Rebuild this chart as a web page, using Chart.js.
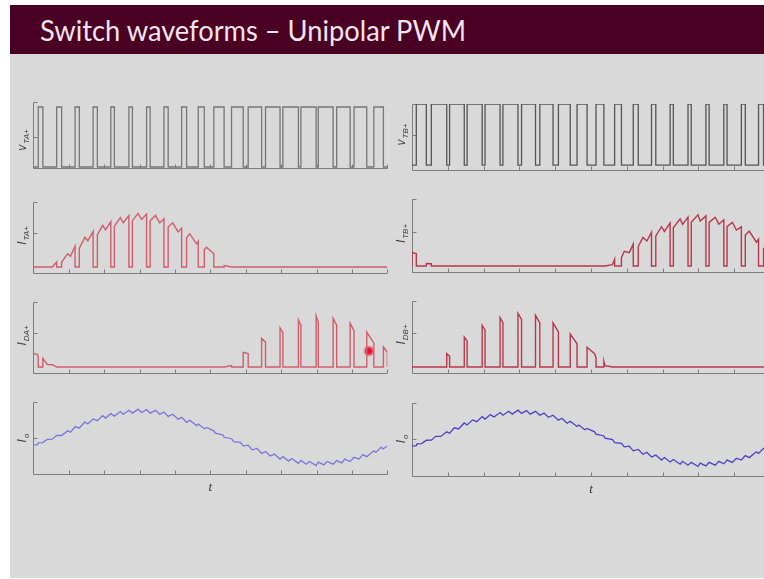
<!DOCTYPE html>
<html>
<head>
<meta charset="utf-8">
<script src="https://cdn.jsdelivr.net/npm/chart.js@4.4.1/dist/chart.umd.min.js"></script>
<style>
  html, body { margin: 0; padding: 0; background: #fff; }
  body { width: 764px; height: 579px; overflow: hidden; position: relative; }
  #slide { position: absolute; left: 10px; top: 5px; width: 754px; height: 573px; background: #d9d9d9; }
  #bar { position: absolute; left: 10px; top: 5px; width: 754px; height: 49px; background: #4a0023; }
  #title { position: absolute; left: 40px; top: 13px; font-family: Lato, sans-serif; font-size: 29px; line-height: 34px;
           color: #f2e5ed; white-space: nowrap; transform-origin: 0 0; }
  canvas { position: absolute; }
</style>
</head>
<body>
<div id="slide"></div>
<div id="bar"></div>
<div id="title">Switch waveforms – Unipolar PWM</div>

<canvas id="vA"></canvas>
<canvas id="iTA"></canvas>
<canvas id="iDA"></canvas>
<canvas id="ioA"></canvas>
<canvas id="vB"></canvas>
<canvas id="iTB"></canvas>
<canvas id="iDB"></canvas>
<canvas id="ioB"></canvas>

<script>
// switching instants (time in axis divisions 0..10)
var legAOffStart = [0.14, 0.66, 1.18, 1.69, 2.19, 2.70, 3.20, 3.69, 4.19, 4.66, 5.10, 5.60, 6.07, 6.56, 7.05, 7.56, 8.05, 8.57, 9.06, 9.62];
var legAOffEnd   = [0.27, 0.80, 1.30, 1.81, 2.29, 2.80, 3.30, 3.81, 4.33, 4.83, 5.39, 5.93, 6.45, 6.97, 7.49, 7.99, 8.47, 8.95, 9.42, 9.89];
var legBOffStart = [0.12, 0.54, 1.05, 1.54, 2.04, 2.54, 3.06, 3.57, 4.09, 4.61, 5.14, 5.66, 6.18, 6.69, 7.21, 7.71, 8.21, 8.71, 9.20, 9.68];
var legBOffEnd   = [0.40, 0.97, 1.46, 1.96, 2.46, 2.96, 3.45, 3.94, 4.42, 4.89, 5.36, 5.85, 6.32, 6.81, 7.30, 7.80, 8.30, 8.80, 9.31, 9.82];

// load current i_o, read at every switching instant
var ioTimes = [0,
  0.12, 0.14, 0.27, 0.40,  0.54, 0.66, 0.80, 0.97,  1.05, 1.18, 1.30, 1.46,  1.54, 1.69, 1.81, 1.96,
  2.04, 2.19, 2.29, 2.46,  2.54, 2.70, 2.80, 2.96,  3.06, 3.20, 3.30, 3.45,  3.57, 3.69, 3.81, 3.94,
  4.09, 4.19, 4.33, 4.42,  4.61, 4.66, 4.83, 4.89,  5.10, 5.14, 5.36, 5.39,  5.60, 5.66, 5.85, 5.93,
  6.07, 6.18, 6.32, 6.45,  6.56, 6.69, 6.81, 6.97,  7.05, 7.21, 7.30, 7.49,  7.56, 7.71, 7.80, 7.99,
  8.05, 8.21, 8.30, 8.47,  8.57, 8.71, 8.80, 8.95,  9.06, 9.20, 9.31, 9.42,  9.62, 9.68, 9.82, 9.89,
  10];
var ioValues = [-0.20,
  -0.186, -0.135, -0.129, -0.036,  -0.034, 0.074, 0.07, 0.198,  0.159, 0.311, 0.279, 0.445,  0.389, 0.53, 0.481, 0.621,
  0.554, 0.677, 0.609, 0.736,  0.66, 0.769, 0.691, 0.80,  0.71, 0.789, 0.691, 0.769,  0.658, 0.719, 0.601, 0.659,
  0.523, 0.577, 0.436, 0.494,  0.346, 0.386, 0.258, 0.294,  0.198, 0.136, 0.084, 0.02,  -0.02, -0.10, -0.124, -0.219,
  -0.20, -0.33, -0.29, -0.427,  -0.373, -0.502, -0.448, -0.586,  -0.516, -0.641, -0.571, -0.703,  -0.622, -0.73, -0.651, -0.764,
  -0.671, -0.748, -0.651, -0.727,  -0.624, -0.691, -0.587, -0.653,  -0.537, -0.585, -0.462, -0.519,  -0.355, -0.401, -0.26, -0.30,
  -0.22];

var timeTicks = [1, 2, 3, 4, 5, 6, 7, 8, 9, 10];
var pointer = [{x: 9.48, y: 0.24}];   // laser pointer dot on the slide

// switch voltage: high while the switch is off
function gateTrace(offStart, offEnd) {
    var pts = [{x: 0, y: 0}];
    for (var i = 0; i < offStart.length; i++) {
        pts.push({x: offStart[i], y: 0}, {x: offStart[i], y: 1}, {x: offEnd[i], y: 1}, {x: offEnd[i], y: 0});
    }
    pts.push({x: 10, y: 0});
    return pts;
}

// device current: i_o (or -i_o) while the leg's upper switch is gated on
function deviceTrace(offStart, offEnd, sign) {
    var on = [], from = 0;
    for (var i = 0; i < offStart.length; i++) { on.push([from, offStart[i]]); from = offEnd[i]; }
    on.push([from, 10]);
    var pts = [];
    on.forEach(function (iv) {
        pts.push({x: iv[0], y: 0});
        for (var k = 0; k < ioTimes.length; k++) {
            if (ioTimes[k] >= iv[0] && ioTimes[k] <= iv[1]) {
                pts.push({x: ioTimes[k], y: Math.max(sign * ioValues[k], 0)});
            }
        }
        pts.push({x: iv[1], y: 0});
    });
    return pts;
}

var ioPoints = ioTimes.map(function (t, k) { return {x: t, y: ioValues[k]}; });

var axesPlugin = {
    id: 'axes',
    beforeDatasetsDraw: function (chart, args, o) {
        var ctx = chart.ctx, a = chart.chartArea, x = chart.scales.x, y = chart.scales.y;
        var left = Math.round(a.left) + 0.5, bottom = Math.round(a.bottom) + 0.5, top = Math.round(a.top) + 0.5;
        ctx.save();
        ctx.strokeStyle = '#7d7d7d';
        ctx.lineWidth = 1;
        ctx.beginPath();
        ctx.moveTo(left, top);
        ctx.lineTo(left, bottom);
        ctx.lineTo(x.getPixelForValue(10), bottom);
        o.yTicks.forEach(function (v) {
            var py = Math.round(y.getPixelForValue(v)) + 0.5;
            ctx.moveTo(left, py);
            ctx.lineTo(left + 4, py);
        });
        timeTicks.forEach(function (t) {
            var px = Math.round(x.getPixelForValue(t)) + 0.5;
            ctx.moveTo(px, bottom);
            ctx.lineTo(px, bottom - 4);
        });
        ctx.stroke();

        // rotated axis label with subscript
        ctx.fillStyle = '#3f3f3f';
        ctx.font = 'italic 12px "Liberation Sans"';
        var w1 = ctx.measureText(o.main).width;
        ctx.font = 'italic 8px "Liberation Sans"';
        var w2 = ctx.measureText(o.sub).width;
        var cy = y.getPixelForValue(o.yTicks[0]) + (o.shift || 0);
        ctx.translate(a.left - 7, cy + (w1 + w2 + 1) / 2);
        ctx.rotate(-Math.PI / 2);
        ctx.font = 'italic 12px "Liberation Sans"';
        ctx.fillText(o.main, 0, 0);
        ctx.font = 'italic 8px "Liberation Sans"';
        ctx.fillText(o.sub, w1 + 1, 3);
        ctx.restore();

        if (o.xLabel) {
            ctx.save();
            ctx.fillStyle = '#333';
            ctx.font = 'italic 13px "Liberation Serif"';
            ctx.textAlign = 'center';
            ctx.fillText(o.xLabel, x.getPixelForValue(5), a.bottom + 17);
            ctx.restore();
        }
    }
};

function line(points, color, width) {
    return {data: points, borderColor: color, borderWidth: width, pointRadius: 0, tension: 0, fill: false};
}

function makeChart(id, col, topTick, axisY, yMin, yMax, yTicks, label, datasets) {
    var cv = document.getElementById(id);
    var colLeft = col === 0 ? 0 : 380;
    var padLeft = col === 0 ? 33.3 : 32;
    var padRight = col === 0 ? 12.7 : 10;
    var padBottom = label.xLabel ? 26 : 12;
    cv.width = 400;
    cv.height = axisY - topTick + 12 + padBottom;
    cv.style.left = colLeft + 'px';
    cv.style.top = (topTick - 12) + 'px';
    label.yTicks = yTicks;
    return new Chart(cv, {
        type: 'line',
        data: {datasets: datasets},
        options: {
            responsive: false,
            animation: false,
            events: [],
            layout: {padding: {left: padLeft, right: padRight, top: 12, bottom: padBottom}},
            scales: {
                x: {type: 'linear', min: 0, max: 10, display: false},
                y: {type: 'linear', min: yMin, max: yMax, display: false}
            },
            plugins: {legend: {display: false}, tooltip: {enabled: false}, axes: label}
        },
        plugins: [axesPlugin]
    });
}

// left column: leg A
makeChart('vA', 0, 102, 168, -0.017, 1.083, [0.5, 1.083], {main: 'v', sub: 'TA+', shift: 3},
    [line(gateTrace(legAOffStart, legAOffEnd), '#767676', 1.3)]);
makeChart('iTA', 0, 202, 273, -0.09, 0.97, [0.5, 0.97], {main: 'I', sub: 'TA+', shift: 2},
    [line(deviceTrace(legAOffStart, legAOffEnd, 1), '#d05e6d', 1.4)]);
makeChart('iDA', 0, 302, 373, -0.09, 0.97, [0.5, 0.97], {main: 'I', sub: 'DA+', shift: 2},
    [line(deviceTrace(legAOffStart, legAOffEnd, -1), '#d05e6d', 1.4),
     {data: pointer, showLine: false, pointRadius: 4, pointBackgroundColor: '#e0102e',
      pointBorderColor: 'rgba(240,90,110,0.55)', pointBorderWidth: 3}]);
makeChart('ioA', 0, 402, 474, -1, 1, [0, 1], {main: 'I', sub: 'o', xLabel: 't'},
    [line(ioPoints, '#7f74da', 1.3)]);

// right column: leg B
makeChart('vB', 1, 104, 170, -0.08, 1.0, [0.5, 1.0], {main: 'v', sub: 'TB+', shift: 0},
    [line(gateTrace(legBOffStart, legBOffEnd), '#555555', 1.3)]);
makeChart('iTB', 1, 199, 272, -0.09, 1.0, [0.5, 1.0], {main: 'I', sub: 'TB+', shift: 1},
    [line(deviceTrace(legBOffStart, legBOffEnd, -1), '#b9374b', 1.4)]);
makeChart('iDB', 1, 301, 373, -0.09, 0.985, [0.5, 0.985], {main: 'I', sub: 'DB+', shift: 1},
    [line(deviceTrace(legBOffStart, legBOffEnd, 1), '#b9374b', 1.4)]);
makeChart('ioB', 1, 403, 476, -1.03, 1, [0, 1], {main: 'I', sub: 'o', xLabel: 't'},
    [line(ioPoints, '#4f41c6', 1.3)]);

// squeeze the title to the width it has on the slide
var title = document.getElementById('title');
title.style.transform = 'scaleX(' + (426 / title.getBoundingClientRect().width) + ')';
</script>
</body>
</html>
